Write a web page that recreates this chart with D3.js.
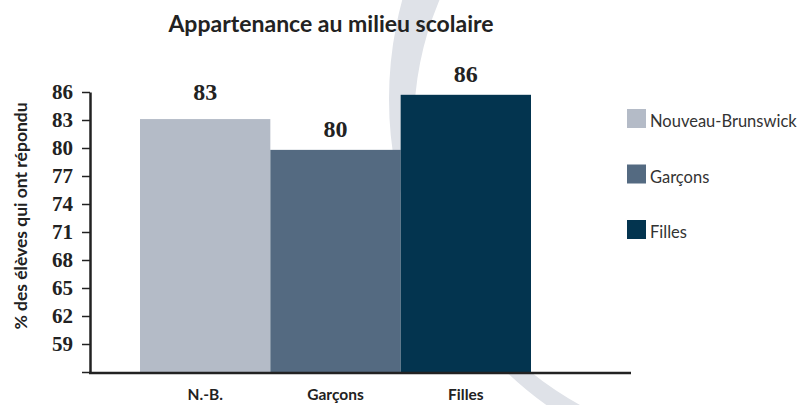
<!DOCTYPE html>
<html>
<head>
<meta charset="utf-8">
<script src="https://cdn.jsdelivr.net/npm/d3@7"></script>
<style>
  body { margin: 0; background: #fff; }
  svg { display: block; }
</style>
</head>
<body>
<div id="graphique"></div>
<script>
// Données
const categories = ["N.-B.", "Garçons", "Filles"]
const legendNames = ["Nouveau-Brunswick", "Garçons", "Filles"]
const values = [83.1, 79.8, 85.7]
const yTicks = [56, 59, 62, 65, 68, 71, 74, 77, 80, 83, 86]

const colors = ["#b4bbc7", "#546a81", "#03344f"]

const width = 800, height = 405

let svg = d3.select("#graphique")
    .append("svg")
    .attr("width", width)
    .attr("height", height)

// Arc décoratif en fond (croissant)
const outer = { cx: 765, cy: 99, r: 376 }
const inner = { cx: 733, cy: 125, r: 319 }
const circlePath = c => `M${c.cx - c.r},${c.cy}a${c.r},${c.r} 0 1,0 ${2 * c.r},0a${c.r},${c.r} 0 1,0 ${-2 * c.r},0Z`
svg.append("path")
    .attr("d", circlePath(outer) + circlePath(inner))
    .attr("fill", "#dfe2e8")
    .attr("fill-rule", "evenodd")

// Echelles
let x = d3.scaleBand()
    .domain(categories)
    .range([140, 531])
    .padding(0)

let y = d3.scaleLinear()
    .domain([56, 86])
    .range([372, 92])

// Barres
svg.append("g")
    .selectAll("rect")
    .data(values)
    .join("rect")
    .attr("x", (d, i) => x(categories[i]))
    .attr("y", d => y(d))
    .attr("width", x.bandwidth())
    .attr("height", d => y(56) - y(d) + 1)
    .attr("fill", (d, i) => colors[i])

// Valeurs au-dessus des barres
svg.append("g")
    .selectAll("text")
    .data(values)
    .join("text")
    .attr("x", (d, i) => x(categories[i]) + x.bandwidth() / 2)
    .attr("y", (d, i) => y(d) - (i === 0 ? 19 : 13))
    .attr("text-anchor", "middle")
    .style("font-family", "'Liberation Serif', serif")
    .style("font-weight", "bold")
    .style("font-size", "24px")
    .attr("fill", "#222")
    .text(d => Math.round(d))

// Axe Y
let yAxis = svg.append("g")
    .attr("transform", "translate(90,0)")
    .call(d3.axisLeft(y)
        .tickValues(yTicks)
        .tickSize(8)
        .tickSizeOuter(0)
        .tickPadding(9)
        .tickFormat(d => d === 56 ? "" : d))
yAxis.select(".domain").attr("stroke", "#222").attr("stroke-width", 2.5)
yAxis.selectAll(".tick line").attr("stroke", "#222").attr("stroke-width", 1.5)
yAxis.selectAll(".tick text")
    .style("font-family", "'Liberation Serif', serif")
    .style("font-weight", "bold")
    .style("font-size", "21px")
    .attr("fill", "#222")

// Axe X
svg.append("line")
    .attr("x1", 89).attr("x2", 631)
    .attr("y1", y(56) + 1).attr("y2", y(56) + 1)
    .attr("stroke", "#222")
    .attr("stroke-width", 2.5)

let xAxis = svg.append("g")
    .attr("transform", "translate(0," + (y(56) + 1) + ")")
    .call(d3.axisBottom(x).tickSize(0).tickPadding(16))
xAxis.select(".domain").remove()
xAxis.selectAll(".tick text")
    .style("font-family", "Lato, sans-serif")
    .style("font-weight", "bold")
    .style("font-size", "15.5px")
    .attr("fill", "#222")

// Titre
svg.append("text")
    .attr("x", 331)
    .attr("y", 32)
    .attr("text-anchor", "middle")
    .style("font-family", "Lato, sans-serif")
    .style("font-weight", "bold")
    .style("font-size", "23px")
    .attr("fill", "#222")
    .text("Appartenance au milieu scolaire")

// Titre axe Y
svg.append("text")
    .attr("transform", "translate(27,216) rotate(-90)")
    .attr("text-anchor", "middle")
    .style("font-family", "Lato, sans-serif")
    .style("font-weight", "bold")
    .style("font-size", "17.5px")
    .attr("fill", "#222")
    .text("% des élèves qui ont répondu")

// Légende
let legend = svg.append("g")
    .selectAll("g")
    .data(legendNames)
    .join("g")
    .attr("transform", (d, i) => "translate(627," + (109 + i * 55.5) + ")")

legend.append("rect")
    .attr("width", 19)
    .attr("height", 19)
    .attr("fill", (d, i) => colors[i])

legend.append("text")
    .attr("x", 23)
    .attr("y", 18)
    .style("font-family", "Lato, sans-serif")
    .style("font-size", "16.5px")
    .attr("fill", "#333")
    .text(d => d)
</script>
</body>
</html>
